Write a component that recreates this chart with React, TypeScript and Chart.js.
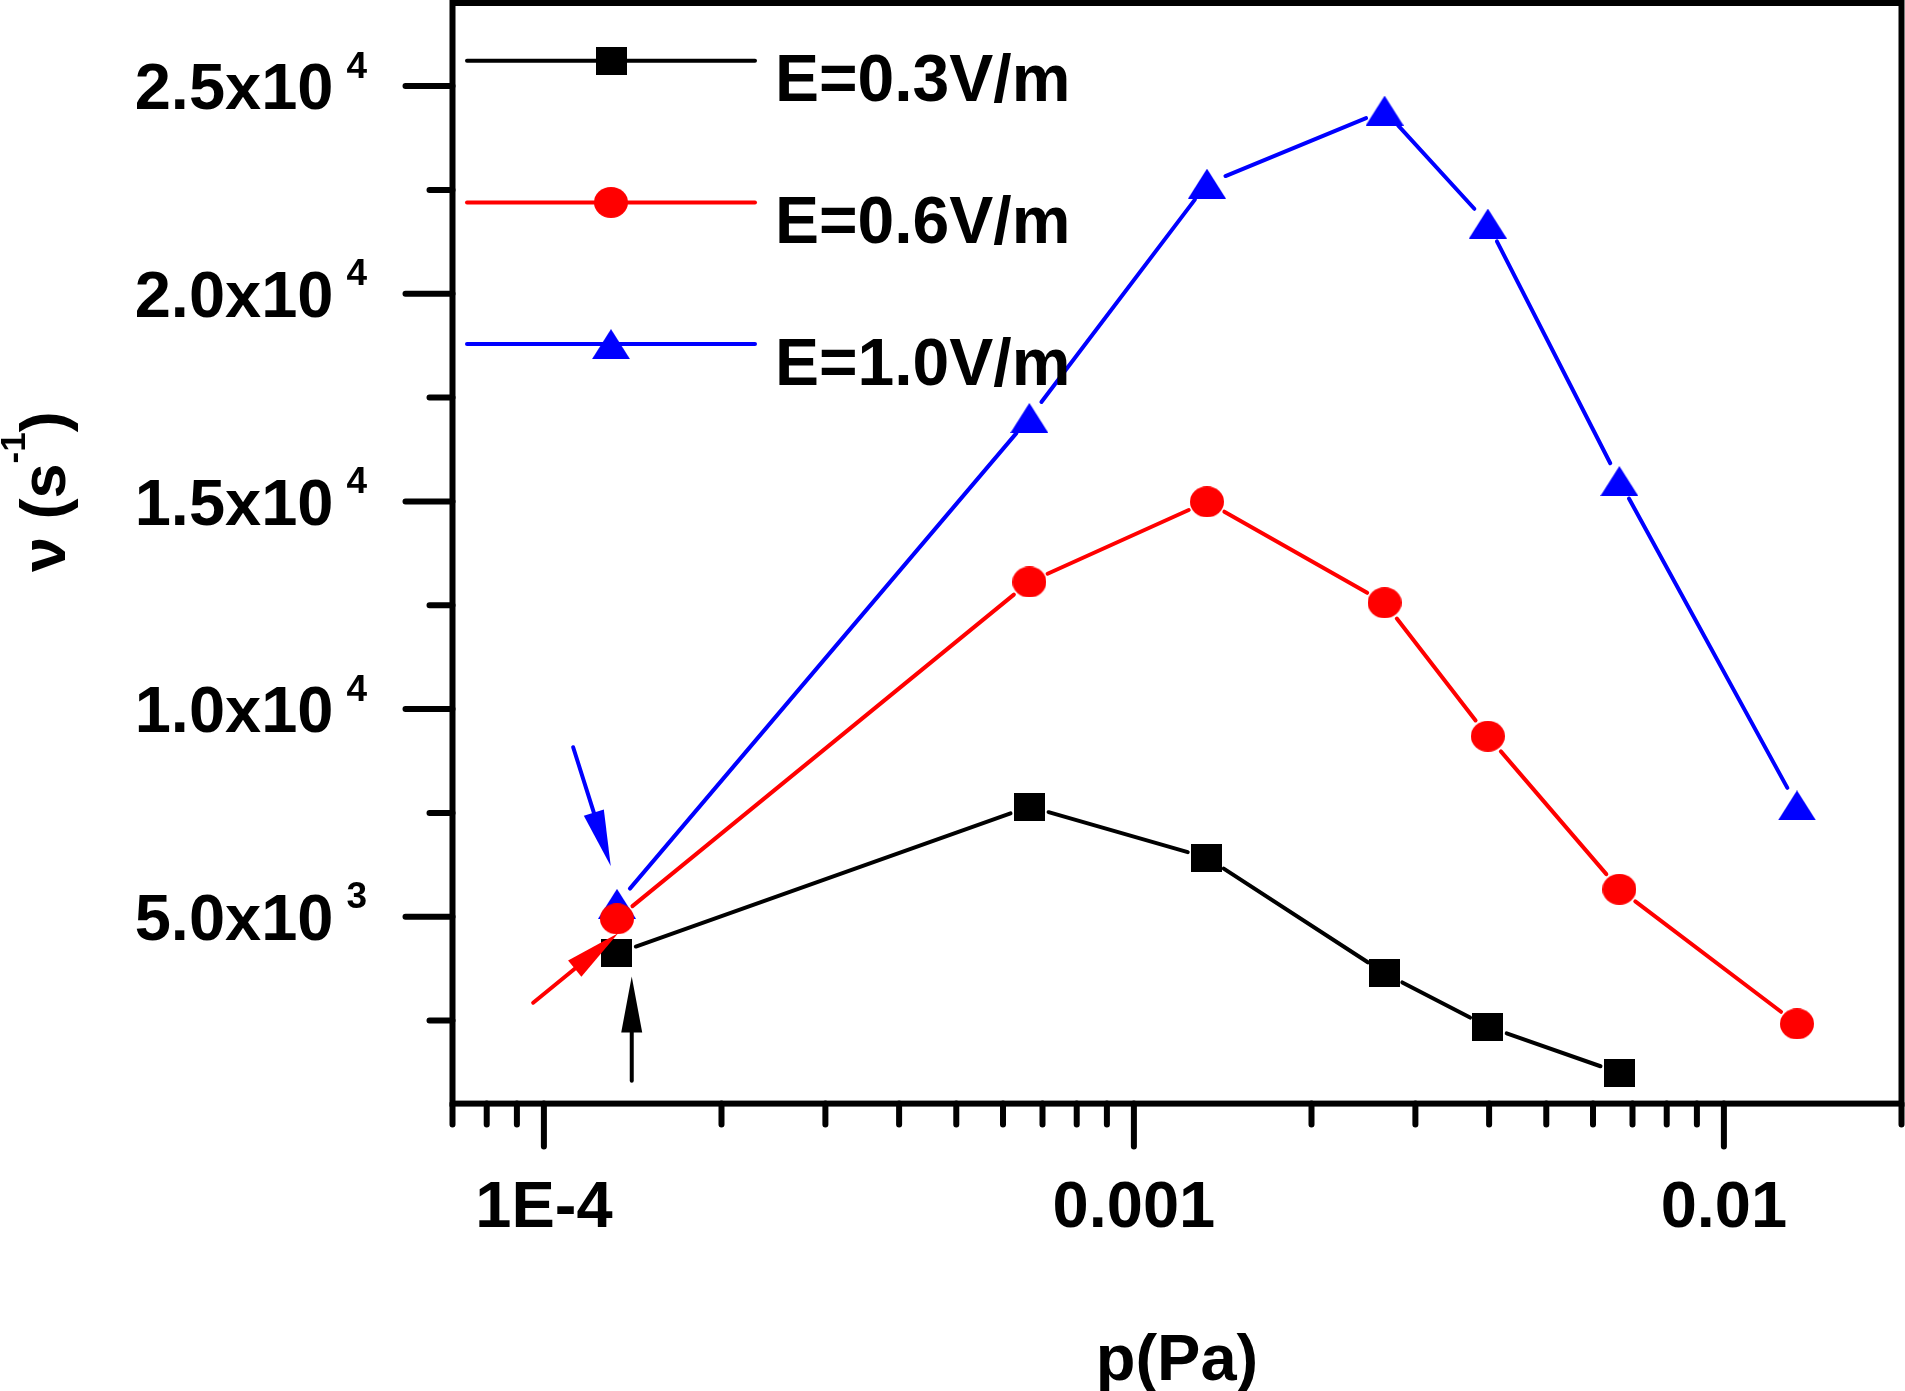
import { useEffect, useRef } from 'react';
import { Chart, registerables } from 'chart.js';

Chart.register(...registerables);

// pressure p (Pa), shared by the three series
const pressure = [1.33e-4, 6.65e-4, 1.33e-3, 2.66e-3, 3.98e-3, 6.65e-3, 1.33e-2];
// collision frequency nu (s^-1)
const nuE03 = [4120, 7650, 6420, 3640, 2350, 1240];
const nuE06 = [4950, 13060, 14990, 12560, 9345, 5660, 2420];
const nuE10 = [5310, 17010, 22650, 24410, 21690, 15490, 7680];
const seriesLabels = ['E=0.3V/m', 'E=0.6V/m', 'E=1.0V/m'];
const seriesColors = ['#000000', '#ff0000', '#0000ff'];

const yMajorTicks = [5000, 10000, 15000, 20000, 25000];
const yMajorLabels = ['5.0x10', '1.0x10', '1.5x10', '2.0x10', '2.5x10'];
const yMajorExponents = ['3', '4', '4', '4', '4'];
const yMinorTicks = [2500, 7500, 12500, 17500, 22500];

const xMajorTicks = [1e-4, 1e-3, 1e-2];
const xMajorLabels = ['1E-4', '0.001', '0.01'];
const xMinorTicks = [
  7e-5, 8e-5, 9e-5,
  2e-4, 3e-4, 4e-4, 5e-4, 6e-4, 7e-4, 8e-4, 9e-4,
  2e-3, 3e-3, 4e-3, 5e-3, 6e-3, 7e-3, 8e-3, 9e-3,
  2e-2
];

// arrows pointing at the first points (data coordinates)
const arrowFrom = [[1.121e-4, 9080], [9.59e-5, 2930], [1.409e-4, 1050]];
const arrowTo = [[1.298e-4, 6220], [1.336e-4, 4600], [1.409e-4, 3560]];
const arrowColors = ['#0000ff', '#ff0000', '#000000'];

const FONT = '"Liberation Sans", Arial, sans-serif';

function makeMarker(shape: string, color: string) {
  const c = document.createElement('canvas');
  const g = c.getContext('2d')!;
  if (shape === 'square') {
    c.width = 31; c.height = 28;
    g.fillStyle = color;
    g.fillRect(0, 0, 31, 28);
  } else if (shape === 'circle') {
    c.width = 34; c.height = 31;
    g.fillStyle = color;
    g.beginPath();
    g.ellipse(17, 15.5, 17, 15.5, 0, 0, Math.PI * 2);
    g.fill();
  } else {
    c.width = 38; c.height = 30;
    g.fillStyle = color;
    g.beginPath();
    g.moveTo(19, 0);
    g.lineTo(38, 30);
    g.lineTo(0, 30);
    g.closePath();
    g.fill();
  }
  return c;
}

const lineGap = 20;

const plotDecor = {
  id: 'plotDecor',
  beforeDatasetsDraw(chart: any) {
    const ctx = chart.ctx;
    chart.data.datasets.forEach((ds: any, i: number) => {
      const pts = chart.getDatasetMeta(i).data;
      ctx.save();
      ctx.strokeStyle = ds.borderColor;
      ctx.lineWidth = 4;
      ctx.lineCap = 'round';
      for (let k = 0; k < pts.length - 1; k++) {
        const p0 = pts[k], p1 = pts[k + 1];
        const dx = p1.x - p0.x, dy = p1.y - p0.y;
        const len = Math.hypot(dx, dy);
        if (len <= 2 * lineGap) continue;
        const ux = dx / len, uy = dy / len;
        ctx.beginPath();
        ctx.moveTo(p0.x + ux * lineGap, p0.y + uy * lineGap);
        ctx.lineTo(p1.x - ux * lineGap, p1.y - uy * lineGap);
        ctx.stroke();
      }
      ctx.restore();
    });
  },
  afterDraw(chart: any) {
    const { ctx, chartArea: a } = chart;
    const xs = chart.scales.x;
    const ys = chart.scales.y;
    ctx.save();

    // frame
    ctx.strokeStyle = '#000';
    ctx.lineWidth = 6;
    ctx.strokeRect(a.left, a.top, a.right - a.left, a.bottom - a.top);

    // ticks
    ctx.lineCap = 'round';
    ctx.beginPath();
    yMajorTicks.forEach((v) => {
      const py = ys.getPixelForValue(v);
      ctx.moveTo(a.left, py);
      ctx.lineTo(a.left - 47, py);
    });
    yMinorTicks.forEach((v) => {
      const py = ys.getPixelForValue(v);
      ctx.moveTo(a.left, py);
      ctx.lineTo(a.left - 23, py);
    });
    xMajorTicks.forEach((v) => {
      const px = xs.getPixelForValue(v);
      ctx.moveTo(px, a.bottom);
      ctx.lineTo(px, a.bottom + 43);
    });
    xMinorTicks.forEach((v) => {
      const px = xs.getPixelForValue(v);
      ctx.moveTo(px, a.bottom);
      ctx.lineTo(px, a.bottom + 21);
    });
    ctx.stroke();

    // y tick labels with exponent
    ctx.fillStyle = '#000';
    ctx.textBaseline = 'alphabetic';
    yMajorTicks.forEach((v, i) => {
      const py = ys.getPixelForValue(v);
      ctx.font = `bold 65px ${FONT}`;
      ctx.textAlign = 'right';
      ctx.fillText(yMajorLabels[i], a.left - 119, py + 23.3);
      ctx.font = `bold 37px ${FONT}`;
      ctx.textAlign = 'left';
      ctx.fillText(yMajorExponents[i], a.left - 106, py - 8.4);
    });

    // x tick labels
    ctx.font = `bold 65px ${FONT}`;
    ctx.textAlign = 'center';
    xMajorTicks.forEach((v, i) => {
      ctx.fillText(xMajorLabels[i], xs.getPixelForValue(v), a.bottom + 123);
    });

    // x title
    ctx.fillText('p(Pa)', (a.left + a.right) / 2, a.bottom + 276.5);

    // y title (rotated)
    ctx.save();
    ctx.translate(65, 572);
    ctx.rotate(-Math.PI / 2);
    ctx.textAlign = 'left';
    ctx.font = `bold 63px ${FONT}`;
    const base = 'ν (s';
    ctx.fillText(base, 0, 0);
    let off = ctx.measureText(base).width;
    ctx.font = `bold 35px ${FONT}`;
    ctx.fillText('-1', off, -40);
    off += ctx.measureText('-1').width;
    ctx.font = `bold 63px ${FONT}`;
    ctx.fillText(')', off, 0);
    ctx.restore();

    // legend
    chart.data.datasets.forEach((ds: any, i: number) => {
      const ly = 60.7 + i * 141.7;
      ctx.strokeStyle = ds.borderColor;
      ctx.lineWidth = 4;
      ctx.lineCap = 'round';
      ctx.beginPath();
      ctx.moveTo(467, ly);
      ctx.lineTo(755, ly);
      ctx.stroke();
      const m = ds.pointStyle;
      ctx.drawImage(m, 611 - m.width / 2, ly - m.height / 2);
      ctx.fillStyle = '#000';
      ctx.font = `bold 66px ${FONT}`;
      ctx.textAlign = 'left';
      ctx.fillText(ds.label, 775, ly + 40.5);
    });

    // arrows
    arrowFrom.forEach((f, i) => {
      const t = arrowTo[i];
      const x0 = xs.getPixelForValue(f[0]), y0 = ys.getPixelForValue(f[1]);
      const x1 = xs.getPixelForValue(t[0]), y1 = ys.getPixelForValue(t[1]);
      const len = Math.hypot(x1 - x0, y1 - y0);
      const ux = (x1 - x0) / len, uy = (y1 - y0) / len;
      const bx = x1 - ux * 56, by = y1 - uy * 56;
      ctx.strokeStyle = arrowColors[i];
      ctx.fillStyle = arrowColors[i];
      ctx.lineWidth = 4;
      ctx.lineCap = 'round';
      ctx.beginPath();
      ctx.moveTo(x0, y0);
      ctx.lineTo(bx + ux * 4, by + uy * 4);
      ctx.stroke();
      ctx.beginPath();
      ctx.moveTo(x1, y1);
      ctx.lineTo(bx - uy * 10.5, by + ux * 10.5);
      ctx.lineTo(bx + uy * 10.5, by - ux * 10.5);
      ctx.closePath();
      ctx.fill();
    });

    ctx.restore();
  }
};

export default function App() {
  const canvasRef = useRef<HTMLCanvasElement>(null);
  const chartRef = useRef<Chart | null>(null);

  useEffect(() => {
    if (!canvasRef.current) return;
    if (chartRef.current) chartRef.current.destroy();

    const shapes = ['square', 'circle', 'triangle'];
    const values = [nuE03, nuE06, nuE10];

    chartRef.current = new Chart(canvasRef.current, {
      type: 'scatter',
      data: {
        datasets: values.map((vals, i) => ({
          label: seriesLabels[i],
          data: vals.map((v, k) => ({ x: pressure[k], y: v })),
          showLine: false,
          borderColor: seriesColors[i],
          backgroundColor: seriesColors[i],
          pointStyle: makeMarker(shapes[i], seriesColors[i]),
          pointRadius: 15
        }))
      },
      options: {
        responsive: false,
        animation: false,
        events: [],
        layout: {
          autoPadding: false,
          padding: { left: 452.5, right: 3.5, top: 3, bottom: 287.4 }
        },
        plugins: {
          legend: { display: false },
          tooltip: { enabled: false }
        },
        scales: {
          x: { type: 'logarithmic', min: 7e-5, max: 0.02, display: false },
          y: { type: 'linear', min: 500, max: 27000, display: false }
        }
      },
      plugins: [plotDecor]
    } as any);

    return () => {
      if (chartRef.current) {
        chartRef.current.destroy();
        chartRef.current = null;
      }
    };
  }, []);

  return (
    <div style={{ position: 'absolute', left: 0, top: 0, width: 1905, height: 1391, background: '#fff' }}>
      <canvas ref={canvasRef} width={1905} height={1391} />
    </div>
  );
}
